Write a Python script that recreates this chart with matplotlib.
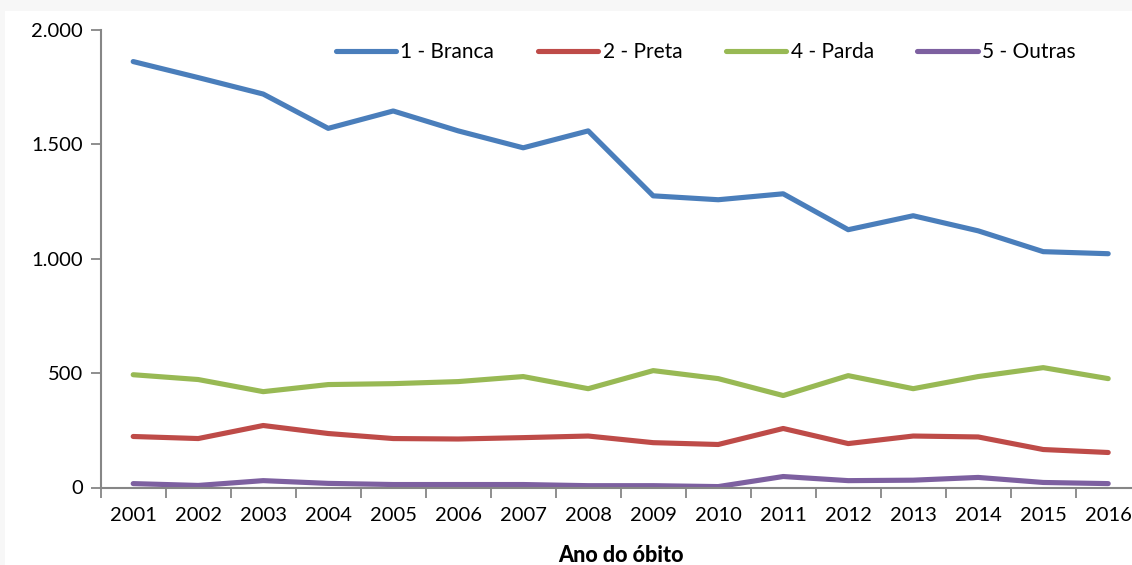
import matplotlib.pyplot as plt
from matplotlib.patches import Rectangle
from matplotlib.ticker import FuncFormatter, FixedLocator

# dados
anos = [str(a) for a in range(2001, 2017)]
branca = [1862, 1792, 1720, 1570, 1646, 1559, 1485, 1559, 1275, 1258, 1284, 1127, 1188, 1122, 1031, 1022]
preta = [223, 214, 271, 236, 214, 212, 218, 225, 196, 188, 258, 192, 225, 221, 166, 153]
parda = [493, 472, 419, 450, 454, 463, 485, 432, 511, 476, 402, 489, 432, 485, 524, 476]
outras = [17, 9, 30, 18, 13, 13, 13, 8, 8, 4, 48, 30, 32, 44, 22, 17]

series = [
    ('1 - Branca', branca, '#4a7ebb'),
    ('2 - Preta', preta, '#be4b48'),
    ('4 - Parda', parda, '#98b954'),
    ('5 - Outras', outras, '#7d60a0'),
]

plt.rcParams['font.family'] = ['Lato', 'DejaVu Sans']

W, H = 1132, 565
fig = plt.figure(figsize=(W / 100, H / 100), dpi=100, facecolor='#f7f7f7')
# fundo branco do gráfico (faixa cinza em cima e à esquerda)
fig.patches.append(Rectangle((5 / W, 0), 1, 1 - 11 / H, transform=fig.transFigure,
                             facecolor='white', edgecolor='none', zorder=-10))

ax = fig.add_axes([100.7 / W, 77.5 / H, 1040 / W, (487.5 - 30) / H])
ax.set_facecolor('none')

x = list(range(len(anos)))
for nome, vals, cor in series:
    ax.plot(x, vals, color=cor, lw=3.7, label=nome, solid_capstyle='round',
            solid_joinstyle='round')

ax.set_xlim(-0.5, len(anos) - 0.5)
ax.set_ylim(0, 2000)
ax.set_yticks([0, 500, 1000, 1500, 2000])
ax.yaxis.set_major_formatter(FuncFormatter(lambda v, p: f'{int(v):,}'.replace(',', '.')))

# ticks do eixo x entre as categorias, rótulos no centro
ax.xaxis.set_major_locator(FixedLocator([i - 0.5 for i in range(len(anos) + 1)]))
ax.xaxis.set_minor_locator(FixedLocator(x))
ax.set_xticklabels([])
ax.set_xticks(x, anos, minor=True)
ax.tick_params(axis='x', which='minor', length=0, pad=14, labelsize=14.5)
ax.tick_params(axis='x', which='major', length=7, width=1.3, color='#868686')
ax.tick_params(axis='y', length=7, width=1.3, color='#868686', labelsize=14.5, pad=6)

for s in ['top', 'right']:
    ax.spines[s].set_visible(False)
for s in ['left', 'bottom']:
    ax.spines[s].set_color('#868686')
    ax.spines[s].set_linewidth(1.5)

ax.set_xlabel('Ano do óbito', fontsize=15.5, fontweight='black', labelpad=15)

ax.legend(loc='upper center', bbox_to_anchor=(0.5 + 85 / 1040, 1.015), ncol=4, frameon=False,
          fontsize=15, handlelength=2.9, handletextpad=0.2, columnspacing=2.1)

fig.savefig('out.png', dpi=100, facecolor=fig.get_facecolor())
